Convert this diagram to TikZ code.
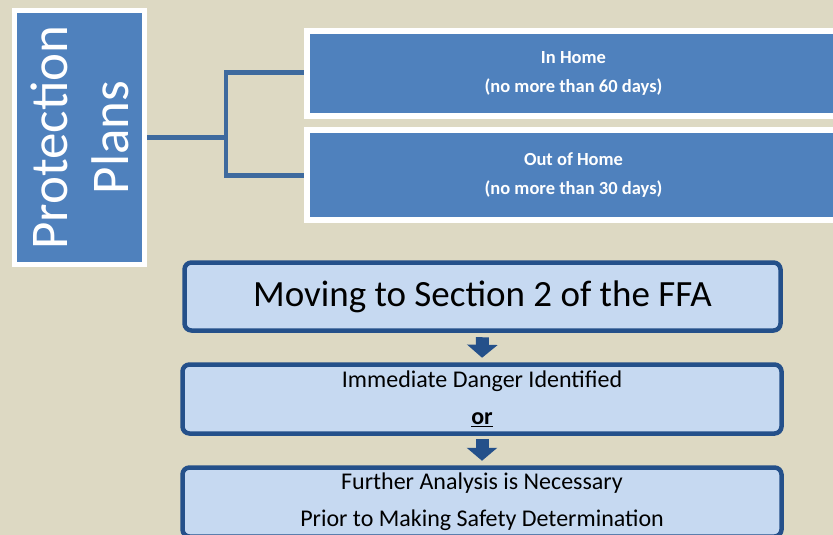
\documentclass[tikz,border=0pt]{standalone}
\usepackage{fontspec}
\setmainfont{Carlito}
\usetikzlibrary{arrows.meta}
\definecolor{bgtan}{HTML}{DDD9C3}
\definecolor{midblue}{HTML}{4F81BD}
\definecolor{connblue}{HTML}{3E6A9E}
\definecolor{paleblue}{HTML}{C6D9F1}
\definecolor{deepblue}{HTML}{24508A}
\begin{document}
\begin{tikzpicture}[x=1pt,y=-1pt,
  titlebox/.style={draw=white, line width=5pt, fill=midblue, text=white, inner sep=0pt,
    font=\fontsize{53}{61}\selectfont, align=center},
  topbox/.style={draw=white, line width=6pt, fill=midblue, text=white, inner sep=0pt,
    font=\fontsize{18.5}{29}\selectfont\bfseries, align=center},
  lowbox/.style={draw=deepblue, line width=4.5pt, fill=paleblue, rounded corners=7pt,
    inner sep=0pt, align=center, text=black},
  conline/.style={draw=connblue, line width=4.5pt},
  flowarrow/.style={draw=deepblue, line width=13pt, -{Triangle[width=30pt,length=13pt]}}]
\fill[bgtan] (0,0) rectangle (833,535);
\useasboundingbox (0,0) rectangle (833,535);

% connectors (drawn first, boxes cover their ends)
\coordinate (j) at (226,137.5);
\coordinate (ppright) at (144.5,137.5);
\coordinate (ihl) at (307,72.7);
\coordinate (ohl) at (307,175.3);
\draw[conline] (ppright) -- (j);
\draw[conline] (j) |- (ihl);
\draw[conline] (j) |- (ohl);

% title box
\node[titlebox, rotate=90, minimum width=254pt, minimum height=130pt] (pp) at (79.5,137.5)
  {Protection\\Plans};

% top boxes
\node[topbox, minimum width=533pt, minimum height=84.5pt] (inhome) at (573.5,73.25)
  {In Home\\(no more than 60 days)};
\node[topbox, minimum width=533pt, minimum height=90pt] (outhome) at (573.5,175.3)
  {Out of Home\\(no more than 30 days)};

% lower flow
\node[lowbox, minimum width=596pt, minimum height=68pt,
  font=\fontsize{37}{44}\selectfont] (mv) at (482.5,296.5)
  {\raisebox{-1.5pt}{Moving to Section 2 of the FFA}};
\node[lowbox, minimum width=599pt, minimum height=69pt,
  font=\fontsize{24}{36.5}\selectfont] (im) at (482,399)
  {Immediate Danger Identified\\\underline{\textbf{or}}};
\node[lowbox, minimum width=599pt, minimum height=69pt,
  font=\fontsize{24}{37}\selectfont] (fu) at (482,502)
  {Further Analysis is Necessary\\Prior to Making Safety Determination};

\draw[flowarrow, shorten <=4.5pt, shorten >=4.5pt] (mv.south) -- (im.north);
\draw[flowarrow, shorten <=3pt, shorten >=4.5pt] (im.south) -- (fu.north);
\end{tikzpicture}
\end{document}
